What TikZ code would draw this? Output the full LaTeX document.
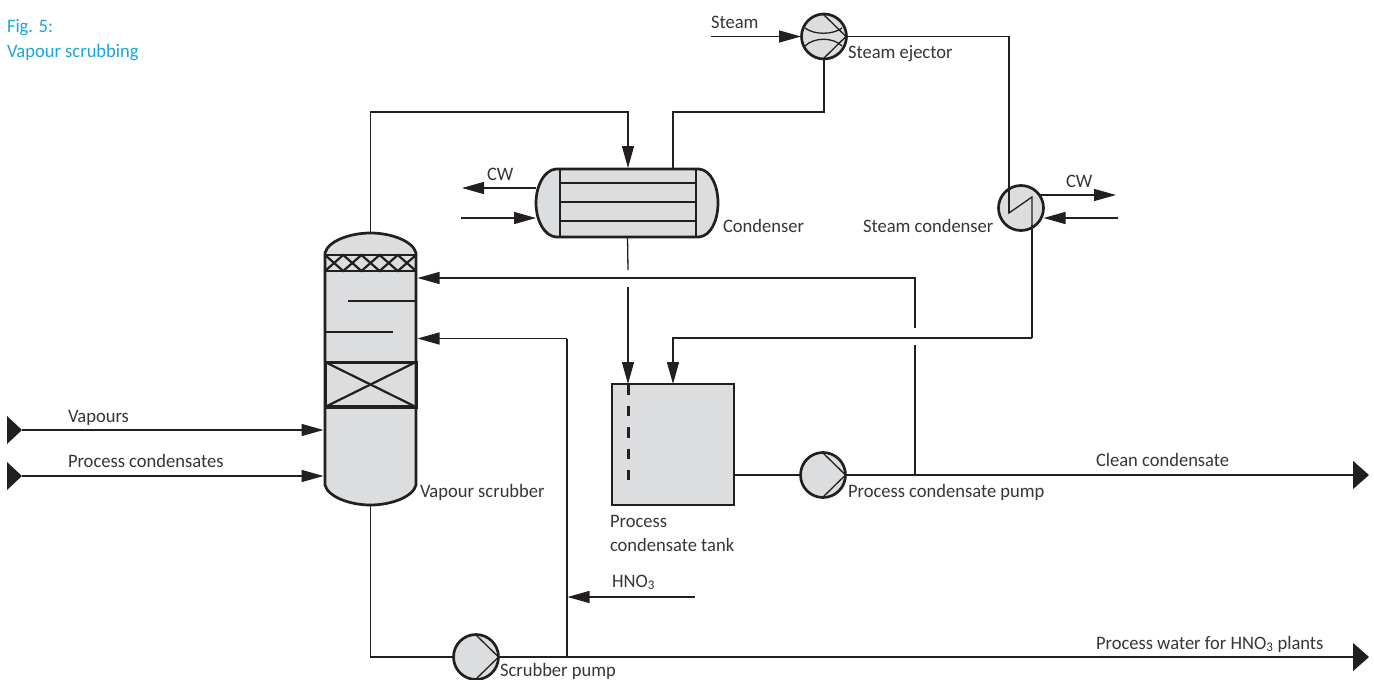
\documentclass[tikz,border=0pt]{standalone}
\usepackage{fontspec}
\setmainfont[FakeStretch=0.975]{Carlito}
\usetikzlibrary{arrows.meta}
\definecolor{ink}{HTML}{231F20}
\definecolor{vessel}{HTML}{DCDDDE}
\definecolor{figcol}{HTML}{1AA5DC}
\tikzset{
  pipe/.style={draw=ink,line width=1.3pt},
  flow/.style={pipe,-{Triangle[length=22pt,width=12pt]}},
  outlet/.style={pipe,-{Triangle[length=16pt,width=28pt]}},
  wall/.style={draw=ink,line width=2.7pt,fill=vessel},
  inner/.style={draw=ink,line width=2.2pt},
  thin/.style={draw=ink,line width=1.3pt},
  machine/.style={circle,draw=ink,line width=2.7pt,fill=vessel,minimum size=45pt,inner sep=0pt,outer sep=0pt},
  lab/.style={anchor=base west,inner sep=0pt,outer sep=0pt,text=ink!90,font=\fontsize{19}{22}\selectfont},
  figlab/.style={lab,text=figcol},
  hook/.style={inner sep=0pt,outer sep=0pt,minimum size=0pt}
}
\begin{document}
\begin{tikzpicture}[x=1pt,y=-1pt]
\useasboundingbox[fill=white] (0,0) rectangle (1374,680);
% named anchors of the equipment
\node[hook,minimum width=91pt,minimum height=272pt] (col) at (370.5,369) {};
\node[hook,minimum width=182pt,minimum height=68pt] (cond) at (627.5,203) {};
\node[hook,minimum width=122pt,minimum height=121pt] (tank) at (673,444.5) {};
\node[machine] (ej) at (824,36.5) {};
\node[machine] (sc) at (1021,208) {};
\node[machine] (pcp) at (823,475) {};
\node[machine] (sp) at (476,657) {};
% free ends and bends
\coordinate (vs) at (22,430);
\coordinate (ps) at (22,476);
\coordinate (coltopbend) at (370.5,112);
\coordinate (condin) at (628,112);
\coordinate (condout) at (673,112);
\coordinate (ejb) at (824,112);
\coordinate (steam) at (711,36.5);
\coordinate (ejr) at (1009,36.5);
\coordinate (scz1) at (1009,213);
\coordinate (scz2) at (1032,197);
\coordinate (sct) at (1032,338);
\coordinate (tanktop) at (673,338);
\coordinate (cwa) at (462,188);
\coordinate (cwb) at (461,218);
\coordinate (cwc) at (1116,195);
\coordinate (cwd) at (1118,218);
\coordinate (gap1) at (628,270);
\coordinate (gap2) at (628,287);
\coordinate (tankin) at (628,384);
\coordinate (clean) at (1369,475);
\coordinate (water) at (1369,657);
\coordinate (br1) at (915,475);
\coordinate (br2) at (915,345);
\coordinate (br3) at (915,328);
\coordinate (br4) at (915,278);
\coordinate (ret) at (417.5,278);
\coordinate (ret2) at (417.5,338.5);
\coordinate (br5) at (567,657);
\coordinate (br6) at (567,338.5);
\coordinate (hno) at (695,597);
\coordinate (hnoT) at (567.5,597);
\coordinate (colbot) at (370.5,657);
% connectors
\draw[flow] (col.north) -- (coltopbend) -- (condin) -- (628,168);
\draw[pipe] (673,169) -- (condout) -- (ejb) -- (ej.south);
\draw[pipe] (ej.east) -- (ejr) -- (scz1);
\draw[flow] (steam) -- (801,36.5);
\draw[pipe] (col.south) -- (colbot) -- (sp.west);
\draw[outlet] (sp.east) -- (water);
\draw[pipe] (br5) -- (br6);
\draw[flow] (br6) -- (ret2);
\draw[flow] (hno) -- (hnoT);
\draw[pipe] (tank.east |- pcp) -- (pcp.west);
\draw[outlet] (pcp.east) -- (clean);
\draw[pipe] (br1) -- (br2);
\draw[flow] (br3) -- (br4) -- (ret);
\draw[pipe] (sct) -- (1032,225);
\draw[flow] (sct) -- (tanktop) -- (tank.north);
\draw[pipe] (cond.south) -- (gap1);
\draw[flow] (gap2) -- (tankin);
\draw[flow] (vs) -- (323.5,430);
\draw[flow] (ps) -- (323.5,476);
\draw[flow] (536,188) -- (cwa);
\draw[flow] (cwb) -- (536,218);
\draw[flow] (1040,195) -- (cwc);
\draw[flow] (cwd) -- (1043.5,218);
% inlet triangles
\fill[ink] (vs) -- ++(-15,-14) -- ++(0,28) -- cycle;
\fill[ink] (ps) -- ++(-15,-14) -- ++(0,28) -- cycle;
% column
\draw[wall] (325,253) .. controls (328,241) and (350,233) .. (370.5,233) .. controls (391,233) and (413,241) .. (416,253) -- (416,485) .. controls (413,497) and (391,505) .. (370.5,505) .. controls (350,505) and (328,497) .. (325,485) -- cycle;
\draw[thin,line width=2.2pt] (325,255) -- (343.2,271) -- (361.4,255) -- (379.6,271) -- (397.8,255) -- (416,271);
\draw[thin,line width=2.2pt] (325,271) -- (343.2,255) -- (361.4,271) -- (379.6,255) -- (397.8,271) -- (416,255);
\draw[inner] (325,255) -- (416,255);
\draw[inner,line width=2.8pt] (325,271) -- (416,271);
\draw[inner] (348,301) -- (416,301);
\draw[inner] (325,332) -- (393,332);
\draw[inner,line width=3pt] (325,362) rectangle (416,407);
\draw[inner,line width=4pt] (325,407) -- (416,407);
\draw[inner] (325,362) -- (416,407);
\draw[inner] (325,407) -- (416,362);
% condenser
\draw[wall] (556,169) .. controls (544,170) and (536,186) .. (536,203) .. controls (536,220) and (544,236) .. (556,237) -- (699,237) .. controls (711,236) and (718,220) .. (718,203) .. controls (718,186) and (711,170) .. (699,169) -- cycle;
\draw[inner] (560,169) -- (560,237);
\draw[inner] (696,169) -- (696,237);
\draw[inner] (560,183) -- (696,183);
\draw[inner] (560,202) -- (696,202);
\draw[inner] (560,221) -- (696,221);
% tank
\draw[wall] (612,384) rectangle (734,505);
\draw[inner,line width=3pt,dash pattern=on 10.5pt off 11pt] (628,384) -- (628,480);
% machine symbols
\draw[thin] (823,14) -- (846,36.5) -- (823,59);
\draw[thin] (805,28) .. controls (814,35) and (833,35) .. (842,28);
\draw[thin] (805,46) .. controls (814,37) and (833,37) .. (842,46);
\draw[thin] (1009,186) -- (scz1) -- (scz2) -- (1032,229);
\draw[thin] (823,453) -- (845.5,475) -- (823,497);
\draw[thin] (476,635) -- (498.5,657) -- (476,679);
% labels
\node[figlab] (t1) at (7,32) {Fig. 5:};
\node[figlab] (t2) at (7,57) {Vapour scrubbing};
\node[lab] (t3) at (711,28) {Steam};
\node[lab] (t4) at (848,58) {Steam ejector};
\node[lab] (t5) at (487,180) {CW};
\node[lab] (t6) at (1066,187) {CW};
\node[lab] (t7) at (723,232) {Condenser};
\node[lab] (t8) at (863,232) {Steam condenser};
\node[lab] (t9) at (68,422) {Vapours};
\node[lab] (t10) at (68,467) {Process condensates};
\node[lab] (t11) at (420,497) {Vapour scrubber};
\node[lab] (t12) at (610,527) {Process};
\node[lab] (t13) at (610,551) {condensate tank};
\node[lab] (t14) at (848,497) {Process condensate pump};
\node[lab] (t15) at (1096,466) {Clean condensate};
\node[lab] (t16) at (612,587) {HNO\textsubscript{3}};
\node[lab] (t17) at (1096,649) {Process water for HNO\textsubscript{3} plants};
\node[lab] (t18) at (500,676) {Scrubber pump};
\end{tikzpicture}
\end{document}
